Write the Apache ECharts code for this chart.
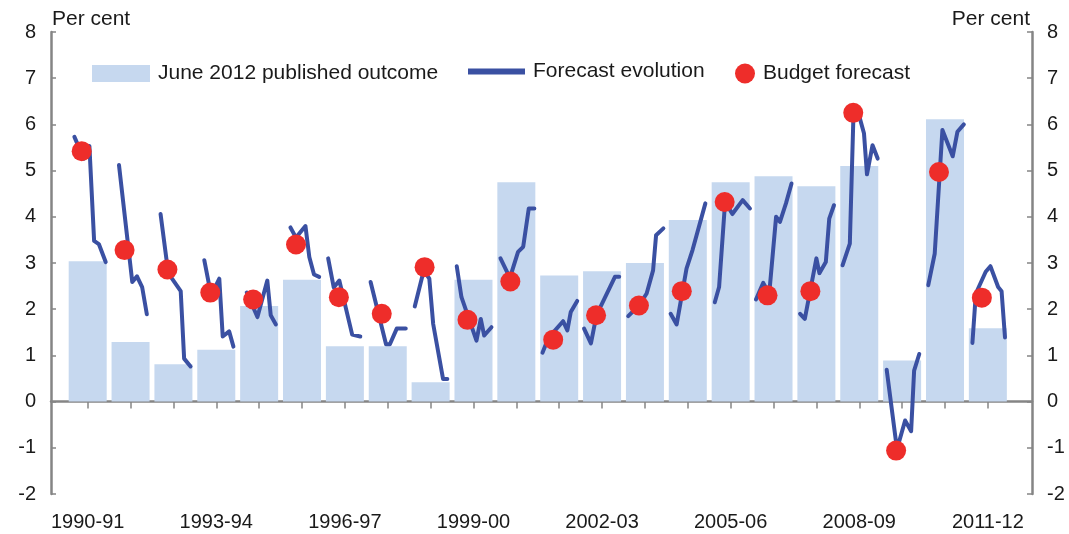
<!DOCTYPE html>
<html>
<head>
<meta charset="utf-8">
<script src="https://cdn.jsdelivr.net/npm/echarts@6/dist/echarts.min.js"></script>
<style>
html,body{margin:0;padding:0;background:#fff;}
#chart{width:1069px;height:534px;}
</style>
</head>
<body>
<div id="chart"></div>
<script>
var categories = ['1990-91','1991-92','1992-93','1993-94','1994-95','1995-96','1996-97','1997-98','1998-99','1999-00','2000-01',
	'2001-02','2002-03','2003-04','2004-05','2005-06','2006-07','2007-08','2008-09','2009-10','2010-11','2011-12'];
var labelIndex = [0,3,6,9,12,15,18,21];
var yTicks = [-2,-1,0,1,2,3,4,5,6,7,8];

// June 2012 published outcome
var outcome = [3.04,1.29,0.81,1.12,2.07,2.64,1.20,1.20,0.42,2.64,4.75,2.73,2.82,3.00,3.93,4.75,4.88,4.66,5.10,0.89,6.11,1.59];

// budget forecast, published a little before the middle of each year
var budgetTiming = -0.14;
var budget = [5.42,3.28,2.86,2.36,2.21,3.40,2.26,1.90,2.91,1.77,2.60,1.34,1.87,2.08,2.39,4.32,2.30,2.39,6.25,-1.06,4.97,2.25];

// forecast evolution, [timing within year, forecast]
var evolution = [
	[[-0.31,5.73],[-0.09,5.26],[0.04,5.53],[0.15,3.48],[0.26,3.41],[0.42,3.02]],
	[[-0.27,5.12],[0.04,2.59],[0.15,2.71],[0.27,2.48],[0.38,1.89]],
	[[-0.30,4.06],[-0.12,2.78],[0.0,2.62],[0.17,2.39],[0.25,0.93],[0.40,0.76]],
	[[-0.28,3.06],[-0.12,2.30],[0.07,2.66],[0.15,1.41],[0.30,1.52],[0.40,1.19]],
	[[-0.29,2.36],[-0.04,1.83],[0.19,2.62],[0.27,1.87],[0.39,1.67]],
	[[-0.27,3.77],[-0.14,3.55],[0.08,3.80],[0.17,3.13],[0.28,2.75],[0.40,2.70]],
	[[-0.39,3.10],[-0.26,2.47],[-0.13,2.62],[0.17,1.45],[0.36,1.41]],
	[[-0.40,2.59],[-0.04,1.24],[0.05,1.24],[0.21,1.58],[0.42,1.58]],
	[[-0.37,2.06],[-0.16,2.84],[-0.03,2.66],[0.06,1.68],[0.29,0.49],[0.39,0.49]],
	[[-0.39,2.93],[-0.28,2.26],[0.07,1.32],[0.17,1.79],[0.25,1.43],[0.42,1.61]],
	[[-0.37,3.10],[-0.15,2.68],[0.04,3.24],[0.16,3.35],[0.29,4.18],[0.42,4.18]],
	[[-0.39,1.06],[-0.25,1.38],[0.09,1.74],[0.19,1.54],[0.27,1.94],[0.42,2.18]],
	[[-0.42,1.58],[-0.26,1.26],[-0.13,1.87],[0.30,2.70],[0.40,2.70]],
	[[-0.39,1.85],[-0.14,2.08],[0.04,2.34],[0.19,2.84],[0.26,3.60],[0.43,3.75]],
	[[-0.40,1.90],[-0.26,1.67],[-0.03,2.88],[0.11,3.28],[0.41,4.29]],
	[[-0.37,2.15],[-0.27,2.48],[-0.13,4.32],[0.04,4.06],[0.28,4.36],[0.45,4.18]],
	[[-0.41,2.21],[-0.24,2.57],[-0.10,2.34],[0.06,4.00],[0.15,3.89],[0.29,4.29],[0.42,4.72]],
	[[-0.38,1.90],[-0.27,1.79],[0.0,3.10],[0.07,2.78],[0.22,3.02],[0.30,3.96],[0.41,4.25]],
	[[-0.39,2.95],[-0.22,3.42],[-0.13,6.38],[-0.06,6.38],[0.11,5.81],[0.18,4.92],[0.31,5.55],[0.43,5.26]],
	[[-0.36,0.69],[-0.12,-1.03],[0.07,-0.41],[0.21,-0.64],[0.28,0.67],[0.40,1.03]],
	[[-0.39,2.52],[-0.24,3.20],[-0.06,5.88],[0.18,5.31],[0.29,5.84],[0.44,6.00]],
	[[-0.36,1.27],[-0.28,2.34],[-0.05,2.81],[0.06,2.93],[0.24,2.48],[0.32,2.39],[0.40,1.39]]
];

var FONT = "'Liberation Sans', Arial, sans-serif";
var AXIS_COLOR = "#858585";
var X_MIN = -0.856, X_MAX = 22.03;

function barData(){
	return outcome.map(function(v,i){ return [i,v]; });
}
function budgetData(){
	return budget.map(function(v,i){ return [i + budgetTiming, v]; });
}
function evolutionData(){
	var out = [];
	evolution.forEach(function(path,i){
		path.forEach(function(p){ out.push([i + p[0], p[1]]); });
		out.push('-');   // break between years
	});
	return out;
}
function yAxisOpt(side){
	return {
		type:'value',
		position:side,
		min:yTicks[0],
		max:yTicks[yTicks.length - 1],
		interval:1,
		name:'Per cent',
		nameLocation:'end',
		nameGap:2,
		nameTextStyle:{
			fontFamily:FONT,
			fontSize:21,
			color:'#1a1a1a',
			align:side === 'left' ? 'left' : 'right',
			padding:side === 'left' ? [0,0,0,1] : [0,2,0,0]
		},
		axisLine:{show:true,onZero:false,lineStyle:{color:AXIS_COLOR,width:2.5}},
		axisTick:{show:true,inside:true,length:5,lineStyle:{color:AXIS_COLOR,width:1.5}},
		splitLine:{show:false},
		axisLabel:{fontFamily:FONT,fontSize:20,color:'#1a1a1a',margin:15}
	};
}
function init(){
	var myChart = echarts.init(document.getElementById('chart'), null, {renderer:'canvas'});
	var legendText = {fontFamily:FONT,fontSize:21,color:'#1a1a1a',padding:[0,0,0,3]};
	myChart.setOption({
		animation:false,
		backgroundColor:'#fff',
		grid:{left:51,right:37,top:32,bottom:40,containLabel:false},
		legend:[
			{left:92,top:63,padding:0,itemWidth:58,itemHeight:17,icon:'rect',textStyle:legendText,
				data:['June 2012 published outcome']},
			{left:468,top:61,padding:0,itemWidth:57,itemHeight:6,icon:'rect',textStyle:legendText,
				data:['Forecast evolution']},
			{left:735,top:63,padding:0,itemWidth:20,itemHeight:20,icon:'circle',textStyle:legendText,
				data:['Budget forecast']}
		],
		xAxis:[
			{
				type:'value',
				min:X_MIN,
				max:X_MAX,
				position:'bottom',
				axisLine:{show:true,onZero:true,lineStyle:{color:AXIS_COLOR,width:2.5}},
				axisTick:{show:true,length:7,customValues:categories.map(function(c,i){ return i; }),
					lineStyle:{color:AXIS_COLOR,width:1.5}},
				axisLabel:{show:false},
				splitLine:{show:false}
			},
			{
				type:'value',
				min:X_MIN,
				max:X_MAX,
				position:'bottom',
				axisLine:{show:false,onZero:false},
				axisTick:{show:false},
				splitLine:{show:false},
				axisLabel:{
					show:true,
					customValues:labelIndex,
					fontFamily:FONT,
					fontSize:20,
					color:'#1a1a1a',
					margin:18,
					formatter:function(v){ return categories[Math.round(v)]; }
				}
			}
		],
		yAxis:[yAxisOpt('left'), yAxisOpt('right')],
		series:[
			{
				name:'June 2012 published outcome',
				type:'bar',
				xAxisIndex:0,
				yAxisIndex:0,
				barWidth:38,
				itemStyle:{color:'#C6D8EF'},
				data:barData()
			},
			{
				name:'Forecast evolution',
				type:'line',
				xAxisIndex:0,
				yAxisIndex:0,
				showSymbol:false,
				symbol:'none',
				connectNulls:false,
				itemStyle:{color:'#3A50A2'},
				lineStyle:{color:'#3A50A2',width:4,join:'round',cap:'round'},
				data:evolutionData()
			},
			{
				name:'Budget forecast',
				type:'scatter',
				xAxisIndex:0,
				yAxisIndex:0,
				symbolSize:20,
				itemStyle:{color:'#EE2D2A',opacity:1},
				z:5,
				data:budgetData()
			}
		]
	});
}
init();
</script>
</body>
</html>
